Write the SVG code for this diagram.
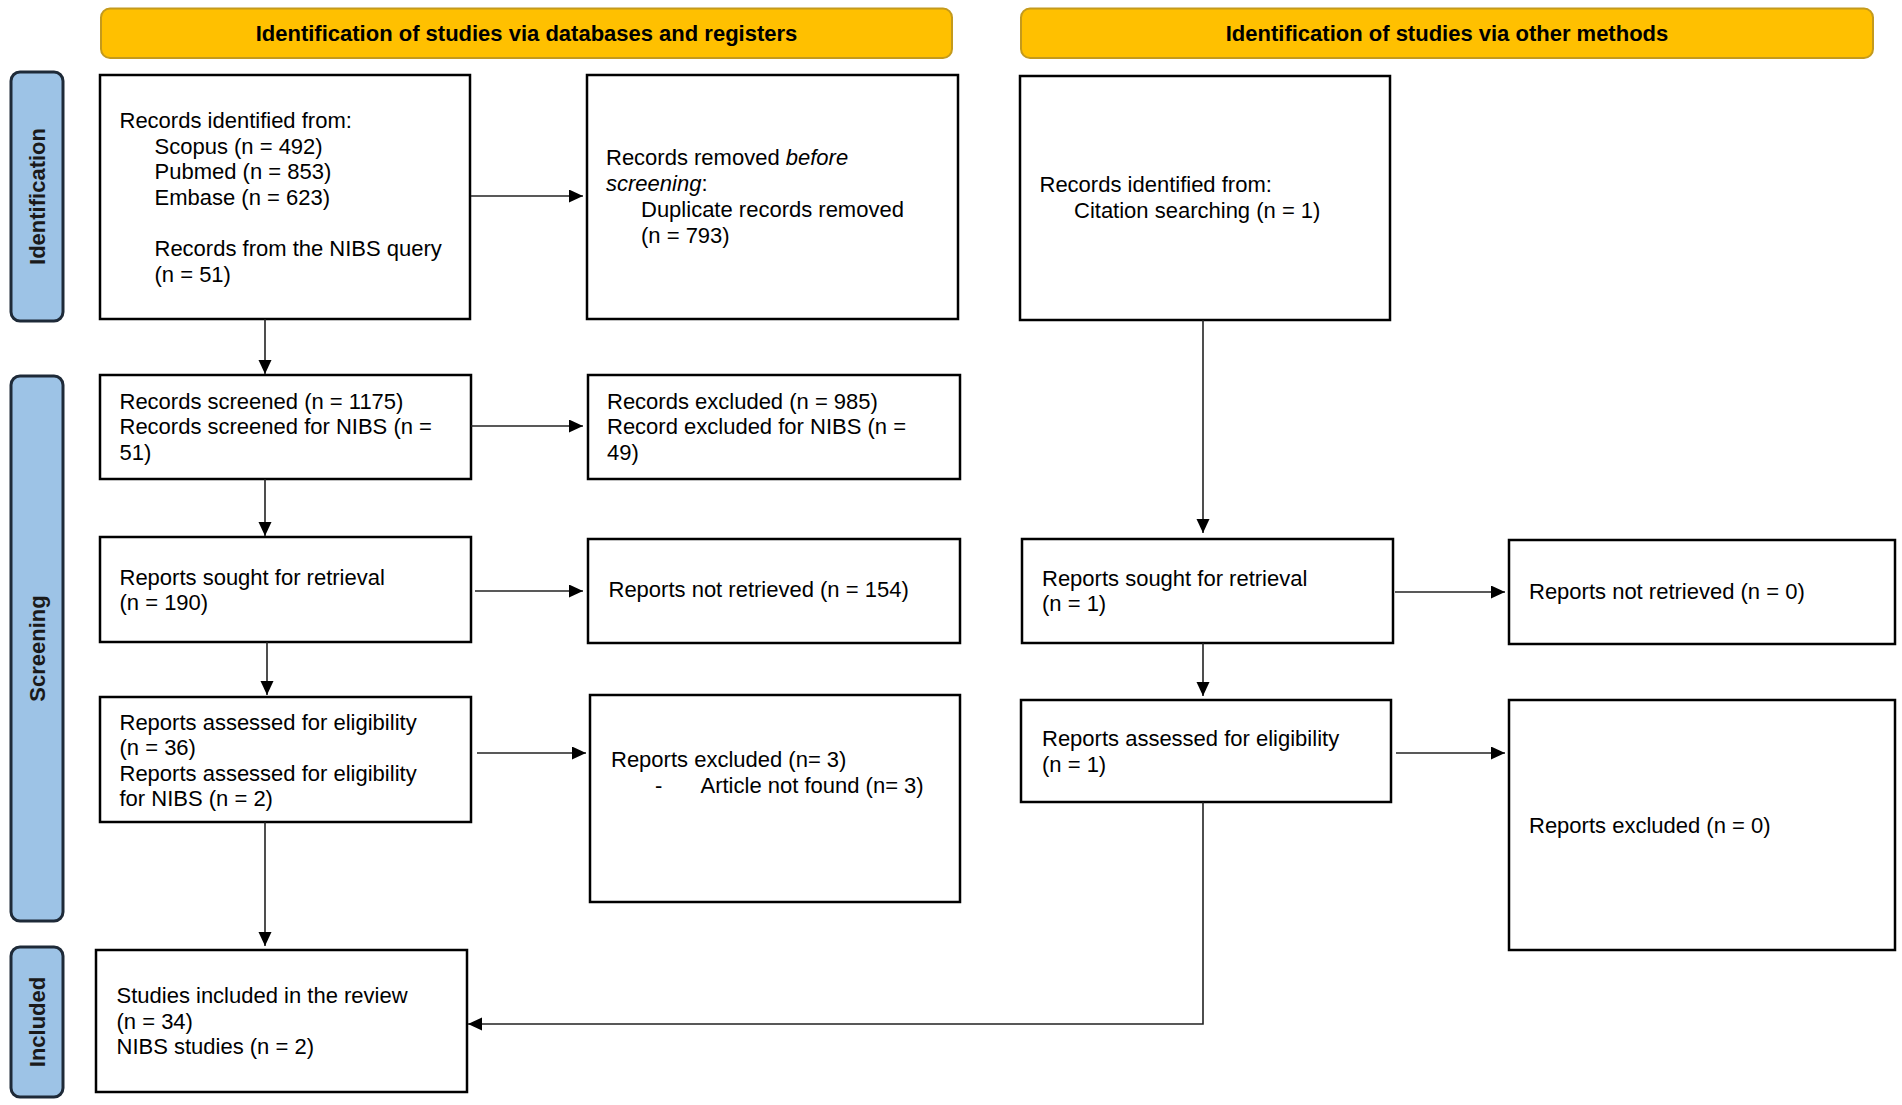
<svg xmlns="http://www.w3.org/2000/svg" width="1902" height="1105" viewBox="0 0 1902 1105">
<style>
  .hdr { fill: #FFC000; stroke: #C49A1C; stroke-width: 2; }
  .hdrt { font-family: "Liberation Sans", Arial, sans-serif; font-size: 22px; font-weight: bold; fill: #000; text-anchor: middle; }
  .side { fill: #9DC3E6; stroke: #1E2A38; stroke-width: 3; }
  .sidet { font-family: "Liberation Sans", Arial, sans-serif; font-size: 22px; font-weight: bold; fill: #1a1a1a; text-anchor: middle; }
  .box { fill: #fff; stroke: #000; stroke-width: 2.5; }
  .t { font-family: "Liberation Sans", Arial, sans-serif; font-size: 22px; fill: #000; }
  .conn { fill: none; stroke: #222; stroke-width: 1.6; }
</style>
<defs>
  <marker id="ah" markerUnits="userSpaceOnUse" markerWidth="15" markerHeight="14" refX="14" refY="6.5" orient="auto">
    <path d="M0,0 L14,6.5 L0,13 z" fill="#000"/>
  </marker>
</defs>
<rect width="1902" height="1105" fill="#fff"/>

<g id="header-databases">
  <rect class="hdr" x="101" y="8.5" width="851" height="49.5" rx="9"/>
  <text class="hdrt" x="526.5" y="41">Identification of studies via databases and registers</text>
</g>
<g id="header-other">
  <rect class="hdr" x="1021" y="8.5" width="852" height="49.5" rx="9"/>
  <text class="hdrt" x="1447" y="41">Identification of studies via other methods</text>
</g>

<g id="side-identification">
  <rect class="side" x="11" y="72" width="52" height="249" rx="9"/>
  <text class="sidet" transform="translate(45,196.5) rotate(-90)">Identification</text>
</g>
<g id="side-screening">
  <rect class="side" x="11" y="376" width="52" height="545" rx="9"/>
  <text class="sidet" transform="translate(45,648.5) rotate(-90)">Screening</text>
</g>
<g id="side-included">
  <rect class="side" x="11" y="947" width="52" height="150" rx="9"/>
  <text class="sidet" transform="translate(45,1022) rotate(-90)">Included</text>
</g>

<g id="records-identified">
  <rect class="box" x="100" y="75" width="370" height="244"/>
  <text class="t"><tspan x="119.5" y="128">Records identified from:</tspan><tspan x="154.5" y="153.5">Scopus (n = 492)</tspan><tspan x="154.5" y="179">Pubmed (n = 853)</tspan><tspan x="154.5" y="204.5">Embase (n = 623)</tspan><tspan x="154.5" y="256">Records from the NIBS query</tspan><tspan x="154.5" y="281.5">(n = 51)</tspan></text>
</g>
<g id="records-removed">
  <rect class="box" x="587" y="75" width="371" height="244"/>
  <text class="t"><tspan x="606" y="165">Records removed <tspan font-style="italic">before</tspan></tspan><tspan x="606" y="190.5"><tspan font-style="italic">screening</tspan>:</tspan><tspan x="641" y="217">Duplicate records removed</tspan><tspan x="641" y="242.5">(n = 793)</tspan></text>
</g>
<g id="records-citation">
  <rect class="box" x="1020" y="76" width="370" height="244"/>
  <text class="t"><tspan x="1039.5" y="192">Records identified from:</tspan><tspan x="1074" y="217.5">Citation searching (n = 1)</tspan></text>
</g>

<g id="records-screened">
  <rect class="box" x="100" y="375" width="371" height="104"/>
  <text class="t"><tspan x="119.5" y="408.5">Records screened (n = 1175)</tspan><tspan x="119.5" y="434">Records screened for NIBS (n =</tspan><tspan x="119.5" y="460">51)</tspan></text>
</g>
<g id="records-excluded">
  <rect class="box" x="588" y="375" width="372" height="104"/>
  <text class="t"><tspan x="607" y="408.5">Records excluded (n = 985)</tspan><tspan x="607" y="434">Record excluded for NIBS (n =</tspan><tspan x="607" y="460">49)</tspan></text>
</g>

<g id="reports-sought-db">
  <rect class="box" x="100" y="537" width="371" height="105"/>
  <text class="t"><tspan x="119.5" y="584.5">Reports sought for retrieval</tspan><tspan x="119.5" y="609.5">(n = 190)</tspan></text>
</g>
<g id="reports-not-retrieved-db">
  <rect class="box" x="588" y="539" width="372" height="104"/>
  <text class="t" x="608.5" y="597">Reports not retrieved (n = 154)</text>
</g>
<g id="reports-sought-other">
  <rect class="box" x="1022" y="539" width="371" height="104"/>
  <text class="t"><tspan x="1042" y="586">Reports sought for retrieval</tspan><tspan x="1042" y="611">(n = 1)</tspan></text>
</g>
<g id="reports-not-retrieved-other">
  <rect class="box" x="1509" y="540" width="386" height="104"/>
  <text class="t" x="1529" y="598.5">Reports not retrieved (n = 0)</text>
</g>

<g id="reports-assessed-db">
  <rect class="box" x="100" y="697" width="371" height="125"/>
  <text class="t"><tspan x="119.5" y="729.5">Reports assessed for eligibility</tspan><tspan x="119.5" y="754.5">(n = 36)</tspan><tspan x="119.5" y="780.5">Reports assessed for eligibility</tspan><tspan x="119.5" y="806">for NIBS (n = 2)</tspan></text>
</g>
<g id="reports-excluded-db">
  <rect class="box" x="590" y="695" width="370" height="207"/>
  <text class="t"><tspan x="611" y="767">Reports excluded (n= 3)</tspan><tspan x="655" y="793">-</tspan><tspan x="700.5" y="793">Article not found (n= 3)</tspan></text>
</g>
<g id="reports-assessed-other">
  <rect class="box" x="1021" y="700" width="370" height="102"/>
  <text class="t"><tspan x="1042" y="746">Reports assessed for eligibility</tspan><tspan x="1042" y="771.5">(n = 1)</tspan></text>
</g>
<g id="reports-excluded-other">
  <rect class="box" x="1509" y="700" width="386" height="250"/>
  <text class="t" x="1529" y="832.5">Reports excluded (n = 0)</text>
</g>

<g id="studies-included">
  <rect class="box" x="96" y="950" width="371" height="142"/>
  <text class="t"><tspan x="116.5" y="1002.5">Studies included in the review</tspan><tspan x="116.5" y="1029">(n = 34)</tspan><tspan x="116.5" y="1053.5">NIBS studies (n = 2)</tspan></text>
</g>

<g id="connectors">
  <line class="conn" x1="471" y1="196" x2="583" y2="196" marker-end="url(#ah)"/>
  <line class="conn" x1="265" y1="319" x2="265" y2="374" marker-end="url(#ah)"/>
  <line class="conn" x1="471" y1="426" x2="583" y2="426" marker-end="url(#ah)"/>
  <line class="conn" x1="265" y1="479" x2="265" y2="536" marker-end="url(#ah)"/>
  <line class="conn" x1="475" y1="591" x2="583" y2="591" marker-end="url(#ah)"/>
  <line class="conn" x1="267" y1="642" x2="267" y2="695" marker-end="url(#ah)"/>
  <line class="conn" x1="477" y1="753" x2="586" y2="753" marker-end="url(#ah)"/>
  <line class="conn" x1="265" y1="822" x2="265" y2="946" marker-end="url(#ah)"/>
  <line class="conn" x1="1203" y1="320" x2="1203" y2="533" marker-end="url(#ah)"/>
  <line class="conn" x1="1395" y1="592" x2="1505" y2="592" marker-end="url(#ah)"/>
  <line class="conn" x1="1203" y1="643" x2="1203" y2="696" marker-end="url(#ah)"/>
  <line class="conn" x1="1396" y1="753" x2="1505" y2="753" marker-end="url(#ah)"/>
  <polyline class="conn" points="1203,802 1203,1024 468,1024" marker-end="url(#ah)"/>
</g>
</svg>
